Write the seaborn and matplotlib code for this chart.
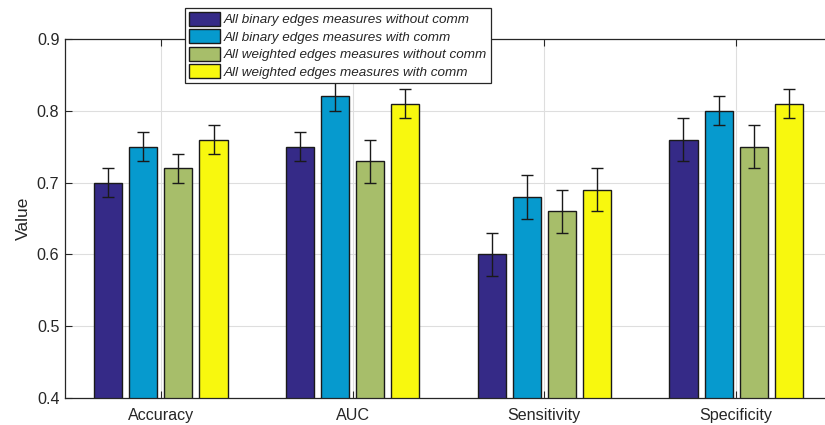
import numpy as np
import pandas as pd
import matplotlib
matplotlib.use("Agg")
import matplotlib.pyplot as plt
import seaborn as sns

# Metrics and the four feature sets
metrics = ["Accuracy", "AUC", "Sensitivity", "Specificity"]
series = [
    "All binary edges measures without comm",
    "All binary edges measures with comm",
    "All weighted edges measures without comm",
    "All weighted edges measures with comm",
]
binary_no_comm = [0.70, 0.75, 0.60, 0.76]
binary_comm = [0.75, 0.82, 0.68, 0.80]
weighted_no_comm = [0.72, 0.73, 0.66, 0.75]
weighted_comm = [0.76, 0.81, 0.69, 0.81]

binary_no_comm_err = [0.02, 0.02, 0.03, 0.03]
binary_comm_err = [0.02, 0.02, 0.03, 0.02]
weighted_no_comm_err = [0.02, 0.03, 0.03, 0.03]
weighted_comm_err = [0.02, 0.02, 0.03, 0.02]

colors = ["#352A87", "#069ACE", "#A7BE6A", "#F8F80E"]

values = [binary_no_comm, binary_comm, weighted_no_comm, weighted_comm]
errors = [binary_no_comm_err, binary_comm_err, weighted_no_comm_err, weighted_comm_err]

rows = []
for s, vals, errs in zip(series, values, errors):
    for m, v, e in zip(metrics, vals, errs):
        rows.append({"Metric": m, "Set": s, "Value": v, "Err": e})
df = pd.DataFrame(rows)

sns.set_theme(style="whitegrid")
plt.rcParams["font.family"] = ["Liberation Sans", "DejaVu Sans"]

fig = plt.figure(figsize=(8.25, 4.25), dpi=100)
ax = fig.add_axes([65 / 825, 1 - 398 / 425, (832 - 65) / 825, (398 - 39) / 425])

sns.barplot(data=df, x="Metric", y="Value", hue="Set", order=metrics,
            hue_order=series, palette=colors, saturation=1, width=0.732,
            gap=0.2, errorbar=None, edgecolor="#1a1a1a", linewidth=1.0,
            ax=ax, legend=True)

# Error bars at the centre of each bar
for patch_group, s in zip(ax.containers, series):
    sub = df[df["Set"] == s].set_index("Metric").loc[metrics]
    xs = [p.get_x() + p.get_width() / 2 for p in patch_group]
    ax.errorbar(xs, sub["Value"].values, yerr=sub["Err"].values, fmt="none",
                ecolor="#1a1a1a", elinewidth=1.0, capsize=4.5, capthick=1.0,
                zorder=5)

ax.set_ylim(0.4, 0.9)
ax.set_xlim(-0.5, 3.5)
ax.set_yticks([0.4, 0.5, 0.6, 0.7, 0.8, 0.9])
ax.set_yticklabels(["0.4", "0.5", "0.6", "0.7", "0.8", "0.9"])
ax.set_xlabel("")
ax.set_ylabel("Value", fontsize=12.5, color="#262626", labelpad=4)

ax.grid(True, color="#dedede", linewidth=0.8)
ax.set_axisbelow(True)
for sp in ax.spines.values():
    sp.set_visible(True)
    sp.set_color("#262626")
    sp.set_linewidth(0.9)
ax.tick_params(axis="both", which="major", direction="in", length=5,
               width=0.8, color="#262626", labelsize=11.6, labelcolor="#262626",
               top=True, right=True, bottom=True, left=True)
ax.tick_params(axis="x", pad=7)
ax.tick_params(axis="y", pad=4)

leg = ax.legend(loc="upper left", bbox_to_anchor=(185 / 825, 1 - 8 / 425),
                bbox_transform=fig.transFigure, frameon=True, fancybox=False,
                prop={"style": "italic", "size": 9.7}, handlelength=2.3,
                handleheight=1.2, handletextpad=0.3, labelspacing=0.22,
                borderpad=0.3, borderaxespad=0)
leg.get_frame().set_edgecolor("#262626")
leg.get_frame().set_linewidth(0.9)
leg.get_frame().set_alpha(1)
leg.set_zorder(10)

fig.savefig("out.png", dpi=100)
